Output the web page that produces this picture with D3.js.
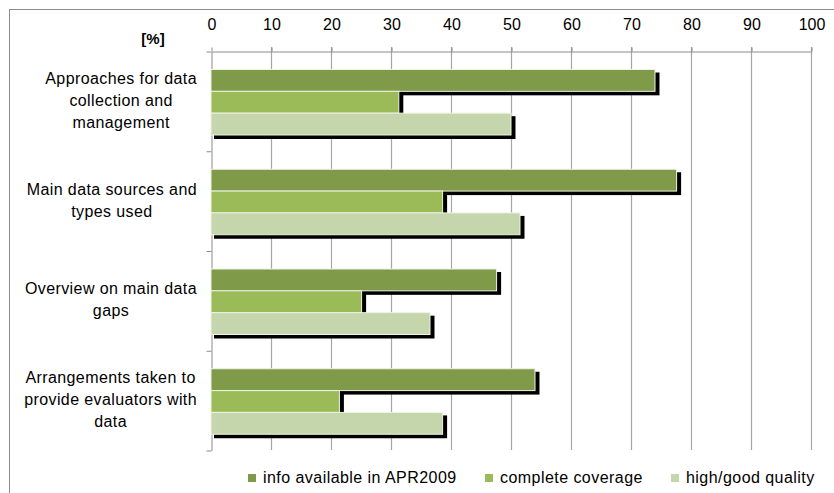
<!DOCTYPE html>
<html>
<head>
<meta charset="utf-8">
<script src="https://cdn.jsdelivr.net/npm/d3@7"></script>
<style>
  body { margin: 0; background: #fff; }
  text { font-family: "Liberation Sans", Arial, sans-serif; fill: #000; }
</style>
</head>
<body>
<div id="canvas"></div>
<script>
// categories (top to bottom), one label line per array entry
var Category = [
  ['Approaches for data', 'collection and', 'management'],
  ['Main data sources and', 'types used'],
  ['Overview on main data', 'gaps'],
  ['Arrangements taken to', 'provide evaluators with', 'data']
]
var Series = ['info available in APR2009', 'complete coverage', 'high/good quality']
var Color = ['#7f9a48', '#9bbb59', '#c6d6ac']

// values, [%]
var ApR2009 = [74, 77.6, 47.6, 54]
var Coverage = [31.3, 38.6, 25.1, 21.4]
var Quality = [50, 51.5, 36.5, 38.6]
var Values = [ApR2009, Coverage, Quality]

var Ticks = [0, 10, 20, 30, 40, 50, 60, 70, 80, 90, 100]

var width = 834, height = 493
var x_basic = 211, x_final = 811
var y_basic = 51, y_final = 450

var Svg = d3.select('#canvas')
  .append('svg')
  .attr('width', width)
  .attr('height', height)

// outer frame
Svg.append('rect')
  .attr('x', 9.5).attr('y', 9.5)
  .attr('width', 900).attr('height', 600)
  .attr('fill', 'none')
  .attr('stroke', '#8c8c8c')

var xScale = d3.scaleLinear()
  .domain([0, 100])
  .range([x_basic, x_final])

var yScale = d3.scaleBand()
  .domain(d3.range(Category.length))
  .range([y_basic, y_final])

// bars inside one category band
var subScale = d3.scaleBand()
  .domain(d3.range(Series.length))
  .range([18.5, 84])

// grid lines
Svg.append('g')
  .selectAll('line')
  .data(Ticks.slice(1))
  .enter()
  .append('line')
  .attr('x1', d => xScale(d) + 0.5)
  .attr('x2', d => xScale(d) + 0.5)
  .attr('y1', y_basic - 4)
  .attr('y2', y_final)
  .attr('stroke', '#a6a6a6')
  .attr('stroke-width', 1.2)

// top axis
var xAxis = d3.axisTop(xScale)
  .tickValues(Ticks)
  .tickSize(4)
  .tickPadding(18)
  .tickSizeOuter(0)

var gx = Svg.append('g')
  .attr('transform', 'translate(0.5,' + (y_basic + 0.5) + ')')
  .call(xAxis)
gx.select('.domain').attr('stroke', '#8c8c8c')
gx.selectAll('.tick line').attr('stroke', '#8c8c8c')
gx.selectAll('.tick text')
  .style('font-size', '16px')
  .style('font-family', '"Liberation Sans", Arial, sans-serif')
  .attr('fill', '#000')

// left axis with ticks at band boundaries
var yLine = d3.scaleLinear()
  .domain([0, Category.length])
  .range([y_basic, y_final])

var yAxis = d3.axisLeft(yLine)
  .ticks(Category.length)
  .tickSize(5)
  .tickFormat('')
  .tickSizeOuter(0)

var gy = Svg.append('g')
  .attr('transform', 'translate(' + (x_basic + 0.5) + ',0.5)')
  .call(yAxis)
gy.select('.domain').attr('stroke', '#8c8c8c')
gy.selectAll('.tick line').attr('stroke', '#8c8c8c')

// flatten to one record per bar
var Bars = []
Values.forEach(function (vals, s) {
  vals.forEach(function (v, c) {
    Bars.push({ s: s, c: c, v: v })
  })
})

// shadows first, then bars on top
Svg.append('g')
  .selectAll('rect')
  .data(Bars)
  .enter()
  .append('rect')
  .attr('x', x_basic + 3)
  .attr('y', d => yScale(d.c) + subScale(d.s) + 3)
  .attr('width', d => xScale(d.v) - x_basic + 1.5)
  .attr('height', subScale.bandwidth() + 1)
  .attr('fill', '#000')

Svg.append('g')
  .selectAll('rect')
  .data(Bars)
  .enter()
  .append('rect')
  .attr('x', x_basic)
  .attr('y', d => yScale(d.c) + subScale(d.s))
  .attr('width', d => xScale(d.v) - x_basic)
  .attr('height', subScale.bandwidth())
  .attr('fill', d => Color[d.s])
  .attr('stroke', '#eef3e4')
  .attr('stroke-width', 1)

// category labels: lines centred in a block whose right edge is fixed
var lineH = 22
var labelRight = 197
Svg.append('g')
  .selectAll('text')
  .data(Category)
  .enter()
  .append('text')
  .attr('text-anchor', 'middle')
  .style('font-size', '16px')
  .style('letter-spacing', '0.4px')
  .each(function (lines, i) {
    var cy = yScale(i) + yScale.bandwidth() / 2
    var y0 = cy - (lines.length - 1) * lineH / 2 + 5
    var t = d3.select(this)
    var spans = t.selectAll('tspan')
      .data(lines)
      .enter()
      .append('tspan')
      .attr('y', (d, k) => y0 + k * lineH)
      .text(d => d)
    var maxW = d3.max(spans.nodes(), n => n.getComputedTextLength())
    spans.attr('x', labelRight - maxW / 2)
  })

// unit label
Svg.append('text')
  .attr('x', 153)
  .attr('y', 44)
  .attr('text-anchor', 'middle')
  .style('font-size', '15px')
  .style('font-weight', 'bold')
  .text('[%]')

// legend
var legX = [248, 485, 671]
var leg = Svg.append('g')
  .selectAll('g')
  .data(Series)
  .enter()
  .append('g')
  .attr('transform', (d, i) => 'translate(' + legX[i] + ',474)')
leg.append('rect')
  .attr('width', 8).attr('height', 8)
  .attr('fill', (d, i) => Color[i])
leg.append('text')
  .attr('x', 15)
  .attr('y', 9)
  .style('font-size', '16px')
  .style('letter-spacing', '0.45px')
  .text(d => d)
</script>
</body>
</html>
